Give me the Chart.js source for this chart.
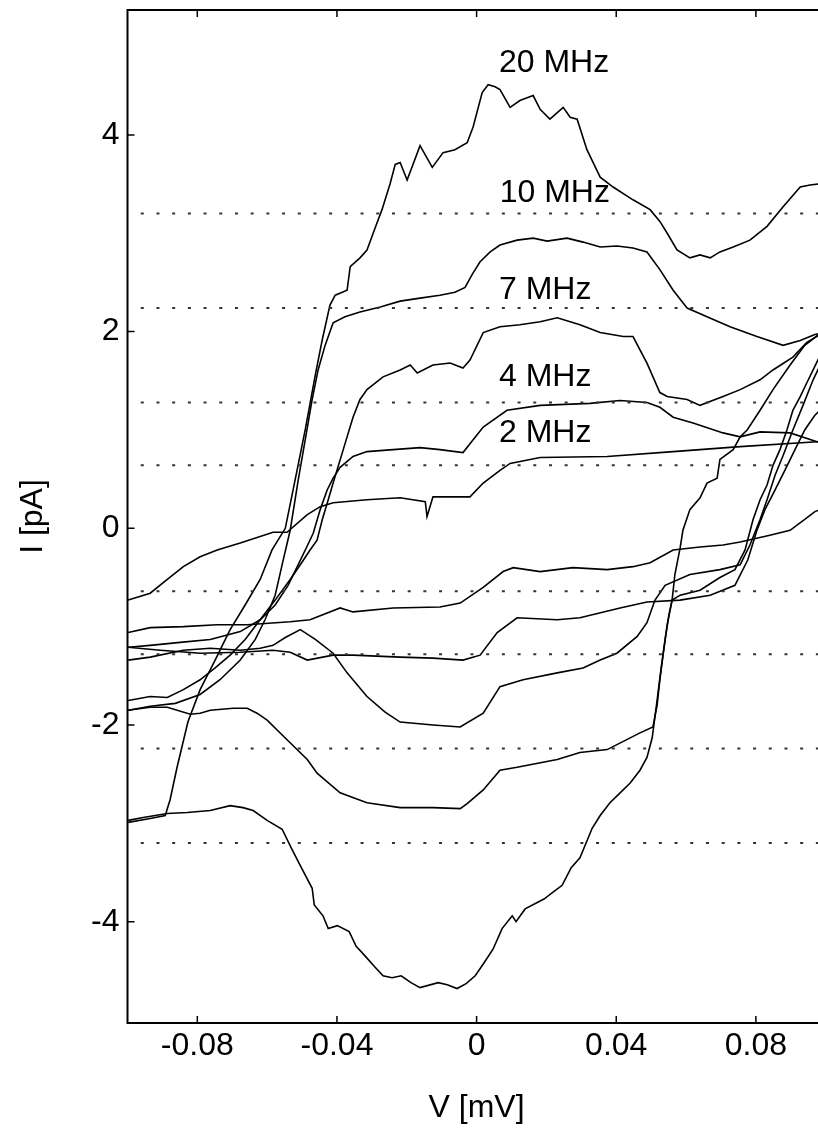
<!DOCTYPE html>
<html><head><meta charset="utf-8">
<script src="https://cdn.jsdelivr.net/npm/chart.js@4.4.1/dist/chart.umd.min.js"></script>
<style>
html,body{margin:0;padding:0;background:#fff;overflow:hidden;width:818px;height:1147px}
canvas{display:block}
</style></head><body>
<canvas id="c" width="840" height="1147"></canvas>
<script>
// ---- axis ticks ----
const xTicks = [-0.08, -0.04, 0, 0.04, 0.08];
const xTickLabels = ['-0.08', '-0.04', '0', '0.04', '0.08'];
const yTicks = [-4, -2, 0, 2, 4];
const yTickLabels = ['-4', '-2', '0', '2', '4'];

// ---- dotted reference levels (pA) ----
const dotLevels = [3.2, 2.24, 1.28, 0.64, -0.64, -1.28, -2.24, -3.2];
const dotStartV = -0.0962;
const dotEndV = 0.1;

// ---- frequency labels ----
const freqLabels = ['20 MHz', '10 MHz', '7 MHz', '4 MHz', '2 MHz'];
const freqLabelV = [0.0064, 0.0066, 0.0064, 0.0064, 0.0064];
const freqLabelI = [4.73, 3.41, 2.42, 1.54, 0.97];

// ---- I-V branches [V (mV), I (pA)] ----
const u20 = [[-0.0998,-2.99],[-0.0935,-2.95],[-0.0892,-2.92],[-0.0878,-2.76],[-0.0858,-2.43],[-0.0827,-1.97],[-0.0792,-1.64],[-0.0749,-1.34],[-0.0706,-1.03],[-0.0663,-0.78],[-0.0620,-0.52],[-0.0586,-0.22],[-0.0548,0.00],[-0.0520,0.49],[-0.0491,1.00],[-0.0462,1.56],[-0.0442,1.92],[-0.0420,2.27],[-0.0405,2.37],[-0.0371,2.42],[-0.0362,2.66],[-0.0334,2.75],[-0.0314,2.83],[-0.0291,3.05],[-0.0271,3.24],[-0.0248,3.50],[-0.0233,3.70],[-0.0219,3.72],[-0.0199,3.54],[-0.0162,3.89],[-0.0127,3.67],[-0.0096,3.82],[-0.0062,3.85],[-0.0027,3.92],[-0.0010,4.08],[0.0016,4.43],[0.0033,4.51],[0.0053,4.49],[0.0067,4.46],[0.0096,4.28],[0.0124,4.35],[0.0162,4.40],[0.0182,4.26],[0.0210,4.16],[0.0248,4.28],[0.0268,4.18],[0.0288,4.16],[0.0316,3.85],[0.0354,3.57],[0.0391,3.47],[0.0448,3.34],[0.0497,3.24],[0.0525,3.12],[0.0546,3.00],[0.0574,2.83],[0.0611,2.75],[0.0640,2.78],[0.0669,2.75],[0.0697,2.81],[0.0735,2.86],[0.0783,2.93],[0.0832,3.07],[0.0878,3.27],[0.0927,3.47],[0.0955,3.49],[0.1000,3.51]];
const l20 = [[-0.0998,-2.97],[-0.0955,-2.94],[-0.0886,-2.90],[-0.0829,-2.89],[-0.0763,-2.87],[-0.0706,-2.82],[-0.0669,-2.84],[-0.0640,-2.87],[-0.0600,-2.97],[-0.0557,-3.06],[-0.0531,-3.25],[-0.0505,-3.43],[-0.0471,-3.66],[-0.0465,-3.83],[-0.0440,-3.94],[-0.0425,-4.07],[-0.0399,-4.04],[-0.0365,-4.10],[-0.0345,-4.25],[-0.0319,-4.35],[-0.0294,-4.45],[-0.0268,-4.55],[-0.0242,-4.57],[-0.0216,-4.55],[-0.0188,-4.62],[-0.0162,-4.67],[-0.0110,-4.62],[-0.0084,-4.64],[-0.0056,-4.68],[-0.0030,-4.63],[-0.0004,-4.55],[0.0021,-4.42],[0.0047,-4.28],[0.0073,-4.07],[0.0102,-3.94],[0.0113,-4.00],[0.0139,-3.87],[0.0193,-3.77],[0.0219,-3.70],[0.0245,-3.63],[0.0271,-3.45],[0.0296,-3.35],[0.0316,-3.18],[0.0331,-3.05],[0.0354,-2.92],[0.0382,-2.79],[0.0411,-2.69],[0.0440,-2.59],[0.0468,-2.46],[0.0488,-2.33],[0.0503,-2.13],[0.0517,-1.75],[0.0528,-1.44],[0.0540,-1.13],[0.0551,-0.88],[0.0560,-0.73],[0.0568,-0.47],[0.0583,-0.20],[0.0591,-0.02],[0.0611,0.19],[0.0640,0.31],[0.0660,0.46],[0.0689,0.51],[0.0697,0.70],[0.0735,0.80],[0.0755,0.93],[0.0775,1.00],[0.0812,1.20],[0.0849,1.41],[0.0898,1.66],[0.0940,1.86],[0.0998,2.02]];
const u10 = [[-0.0998,-1.85],[-0.0935,-1.81],[-0.0863,-1.78],[-0.0792,-1.69],[-0.0735,-1.54],[-0.0677,-1.34],[-0.0634,-1.13],[-0.0606,-0.93],[-0.0577,-0.68],[-0.0557,-0.37],[-0.0534,-0.02],[-0.0511,0.49],[-0.0491,0.90],[-0.0471,1.31],[-0.0454,1.61],[-0.0434,1.86],[-0.0411,2.09],[-0.0377,2.15],[-0.0334,2.20],[-0.0276,2.25],[-0.0219,2.31],[-0.0162,2.34],[-0.0105,2.37],[-0.0062,2.40],[-0.0033,2.45],[-0.0013,2.58],[0.0010,2.71],[0.0039,2.81],[0.0067,2.88],[0.0116,2.93],[0.0162,2.95],[0.0202,2.92],[0.0259,2.95],[0.0305,2.91],[0.0354,2.86],[0.0402,2.87],[0.0448,2.85],[0.0488,2.81],[0.0525,2.63],[0.0563,2.42],[0.0603,2.24],[0.0660,2.15],[0.0726,2.05],[0.0803,1.95],[0.0878,1.86],[0.0927,1.91],[0.0969,1.97],[0.0998,1.99]];
const l10 = [[-0.0998,-1.85],[-0.0935,-1.82],[-0.0886,-1.82],[-0.0820,-1.89],[-0.0792,-1.88],[-0.0763,-1.85],[-0.0697,-1.83],[-0.0657,-1.83],[-0.0629,-1.88],[-0.0600,-1.95],[-0.0543,-2.15],[-0.0485,-2.35],[-0.0457,-2.49],[-0.0391,-2.69],[-0.0314,-2.79],[-0.0219,-2.84],[-0.0125,-2.84],[-0.0047,-2.85],[-0.0027,-2.80],[0.0019,-2.66],[0.0067,-2.46],[0.0116,-2.43],[0.0231,-2.35],[0.0296,-2.28],[0.0374,-2.25],[0.0468,-2.08],[0.0505,-2.02],[0.0517,-1.80],[0.0525,-1.54],[0.0534,-1.29],[0.0546,-0.98],[0.0560,-0.73],[0.0583,-0.68],[0.0640,-0.63],[0.0697,-0.50],[0.0740,-0.42],[0.0769,-0.22],[0.0792,0.09],[0.0812,0.29],[0.0832,0.44],[0.0849,0.64],[0.0869,0.80],[0.0889,1.00],[0.0906,1.20],[0.0927,1.34],[0.0946,1.48],[0.0964,1.61],[0.0998,1.86]];
const u7 = [[-0.0998,-1.75],[-0.0935,-1.71],[-0.0886,-1.72],[-0.0840,-1.64],[-0.0792,-1.54],[-0.0749,-1.42],[-0.0706,-1.29],[-0.0663,-1.13],[-0.0620,-0.93],[-0.0577,-0.73],[-0.0534,-0.52],[-0.0505,-0.37],[-0.0477,-0.22],[-0.0457,-0.12],[-0.0442,0.09],[-0.0425,0.29],[-0.0411,0.46],[-0.0382,0.80],[-0.0354,1.13],[-0.0334,1.31],[-0.0314,1.41],[-0.0268,1.54],[-0.0219,1.61],[-0.0190,1.66],[-0.0170,1.58],[-0.0125,1.66],[-0.0076,1.68],[-0.0039,1.63],[-0.0019,1.71],[0.0019,1.99],[0.0067,2.05],[0.0124,2.07],[0.0182,2.10],[0.0231,2.14],[0.0268,2.10],[0.0296,2.07],[0.0354,1.99],[0.0420,1.95],[0.0448,1.95],[0.0488,1.68],[0.0525,1.38],[0.0546,1.34],[0.0603,1.31],[0.0640,1.25],[0.0706,1.34],[0.0755,1.41],[0.0812,1.51],[0.0849,1.61],[0.0906,1.74],[0.0946,1.89],[0.0998,2.00]];
const l7 = [[-0.0998,-1.34],[-0.0935,-1.31],[-0.0840,-1.24],[-0.0763,-1.22],[-0.0677,-1.24],[-0.0620,-1.22],[-0.0583,-1.19],[-0.0548,-1.11],[-0.0505,-1.03],[-0.0462,-1.13],[-0.0411,-1.27],[-0.0371,-1.47],[-0.0314,-1.71],[-0.0262,-1.87],[-0.0219,-1.97],[-0.0125,-2.00],[-0.0047,-2.02],[0.0019,-1.88],[0.0067,-1.61],[0.0133,-1.54],[0.0231,-1.47],[0.0305,-1.42],[0.0354,-1.34],[0.0402,-1.27],[0.0460,-1.10],[0.0488,-0.96],[0.0511,-0.73],[0.0540,-0.58],[0.0611,-0.47],[0.0697,-0.42],[0.0755,-0.37],[0.0783,-0.17],[0.0812,0.09],[0.0832,0.29],[0.0855,0.54],[0.0878,0.74],[0.0906,1.00],[0.0935,1.25],[0.0964,1.51],[0.0998,1.76]];
const u4 = [[-0.0998,-1.21],[-0.0935,-1.19],[-0.0849,-1.16],[-0.0763,-1.13],[-0.0677,-1.05],[-0.0620,-0.93],[-0.0577,-0.78],[-0.0540,-0.58],[-0.0511,-0.37],[-0.0488,-0.20],[-0.0468,-0.05],[-0.0448,0.19],[-0.0428,0.39],[-0.0411,0.51],[-0.0391,0.62],[-0.0354,0.73],[-0.0314,0.78],[-0.0239,0.80],[-0.0162,0.82],[-0.0105,0.80],[-0.0039,0.77],[0.0019,1.03],[0.0087,1.20],[0.0182,1.25],[0.0325,1.27],[0.0411,1.30],[0.0488,1.28],[0.0525,1.23],[0.0563,1.13],[0.0620,1.07],[0.0706,0.97],[0.0755,0.93],[0.0812,0.98],[0.0898,0.97],[0.0975,0.88],[0.0998,0.86]];
const l4 = [[-0.0998,-1.21],[-0.0906,-1.24],[-0.0792,-1.27],[-0.0677,-1.26],[-0.0583,-1.24],[-0.0534,-1.26],[-0.0485,-1.34],[-0.0411,-1.29],[-0.0354,-1.29],[-0.0219,-1.31],[-0.0125,-1.32],[-0.0039,-1.34],[0.0010,-1.29],[0.0059,-1.06],[0.0116,-0.91],[0.0231,-0.93],[0.0296,-0.91],[0.0411,-0.81],[0.0488,-0.75],[0.0583,-0.73],[0.0669,-0.68],[0.0740,-0.58],[0.0777,-0.32],[0.0803,-0.02],[0.0826,0.19],[0.0855,0.39],[0.0883,0.59],[0.0912,0.80],[0.0940,1.00],[0.0969,1.15],[0.0998,1.25]];
const u2 = [[-0.0998,-0.73],[-0.0935,-0.66],[-0.0886,-0.52],[-0.0840,-0.39],[-0.0792,-0.29],[-0.0743,-0.22],[-0.0677,-0.15],[-0.0583,-0.04],[-0.0543,-0.04],[-0.0485,0.14],[-0.0448,0.22],[-0.0411,0.26],[-0.0314,0.29],[-0.0219,0.31],[-0.0147,0.27],[-0.0142,0.12],[-0.0125,0.32],[-0.0047,0.32],[-0.0019,0.32],[0.0019,0.46],[0.0067,0.59],[0.0096,0.66],[0.0182,0.72],[0.0374,0.73],[0.0563,0.78],[0.0755,0.83],[0.0975,0.88],[0.0998,0.89]];
const l2 = [[-0.0998,-1.06],[-0.0935,-1.01],[-0.0840,-1.00],[-0.0743,-0.98],[-0.0657,-0.98],[-0.0534,-0.95],[-0.0477,-0.93],[-0.0391,-0.81],[-0.0354,-0.85],[-0.0239,-0.81],[-0.0105,-0.80],[-0.0047,-0.76],[0.0019,-0.60],[0.0076,-0.44],[0.0105,-0.40],[0.0182,-0.44],[0.0276,-0.40],[0.0374,-0.42],[0.0448,-0.39],[0.0497,-0.35],[0.0563,-0.22],[0.0640,-0.19],[0.0706,-0.17],[0.0755,-0.14],[0.0840,-0.07],[0.0898,-0.02],[0.0940,0.09],[0.0969,0.17],[0.0998,0.21]];

const branches = [u20, l20, u10, l10, u7, l7, u4, l4, u2, l2];

const FONT = '"Liberation Sans", Arial, Helvetica, sans-serif';

const datasets = [];
dotLevels.forEach(lv => {
  datasets.push({
    data: [{x: dotStartV, y: lv}, {x: dotEndV, y: lv}],
    showLine: true, pointRadius: 0, borderColor: '#333', borderWidth: 2,
    borderDash: [3, 12.7], fill: false
  });
});
branches.forEach(b => {
  datasets.push({
    data: b.map(p => ({x: p[0], y: p[1]})),
    showLine: true, pointRadius: 0, borderColor: '#000', borderWidth: 1.6,
    fill: false, tension: 0
  });
});

const framePlugin = {
  id: 'frame',
  afterDatasetsDraw(chart) {
    const {ctx, chartArea: a, scales: {x, y}} = chart;
    ctx.save();
    ctx.strokeStyle = '#000';
    ctx.lineWidth = 2;
    ctx.strokeRect(a.left, a.top, a.right - a.left, a.bottom - a.top);
    ctx.lineWidth = 1.5;
    const L = 7;
    ctx.beginPath();
    xTicks.forEach(v => {
      const px = x.getPixelForValue(v);
      ctx.moveTo(px, a.bottom); ctx.lineTo(px, a.bottom - L);
      ctx.moveTo(px, a.top); ctx.lineTo(px, a.top + L);
    });
    yTicks.forEach(v => {
      const py = y.getPixelForValue(v);
      ctx.moveTo(a.left, py); ctx.lineTo(a.left + L, py);
      ctx.moveTo(a.right, py); ctx.lineTo(a.right - L, py);
    });
    ctx.stroke();
    ctx.font = '32px ' + FONT;
    ctx.fillStyle = '#000';
    ctx.textAlign = 'left';
    ctx.textBaseline = 'middle';
    freqLabels.forEach((t, i) => {
      ctx.fillText(t, x.getPixelForValue(freqLabelV[i]), y.getPixelForValue(freqLabelI[i]));
    });
    ctx.restore();
  }
};

new Chart(document.getElementById('c'), {
  type: 'scatter',
  data: {datasets},
  options: {
    responsive: false,
    animation: false,
    devicePixelRatio: 1,
    layout: {padding: {top: 10, right: 14.3, bottom: 0, left: 0}},
    plugins: {legend: {display: false}, tooltip: {enabled: false}},
    events: [],
    scales: {
      x: {
        type: 'linear', min: -0.1, max: 0.1,
        afterBuildTicks: s => { s.ticks = xTicks.map(v => ({value: v})); },
        afterFit: s => { s.height = 124; s.paddingLeft = 0; s.paddingRight = 0; },
        grid: {display: false, drawTicks: false},
        border: {display: false},
        ticks: {padding: 4, color: '#000', autoSkip: false, maxRotation: 0,
          font: {size: 32, family: FONT},
          callback: (v, i) => xTickLabels[i]},
        title: {display: true, text: 'V [mV]', color: '#000',
          font: {size: 32, family: FONT}, padding: {top: 0, bottom: 20}}
      },
      y: {
        type: 'linear', min: -5.03, max: 5.27,
        afterBuildTicks: s => { s.ticks = yTicks.map(v => ({value: v})); },
        afterFit: s => { s.width = 127.5; s.paddingTop = 0; s.paddingBottom = 0; },
        grid: {display: false, drawTicks: false},
        border: {display: false},
        ticks: {padding: 8, color: '#000', autoSkip: false,
          font: {size: 32, family: FONT},
          callback: (v, i) => yTickLabels[i]},
        title: {display: true, text: 'I [pA]', color: '#000',
          font: {size: 32, family: FONT}, padding: {top: 14, bottom: 0}}
      }
    }
  },
  plugins: [framePlugin]
});
</script>
</body></html>
